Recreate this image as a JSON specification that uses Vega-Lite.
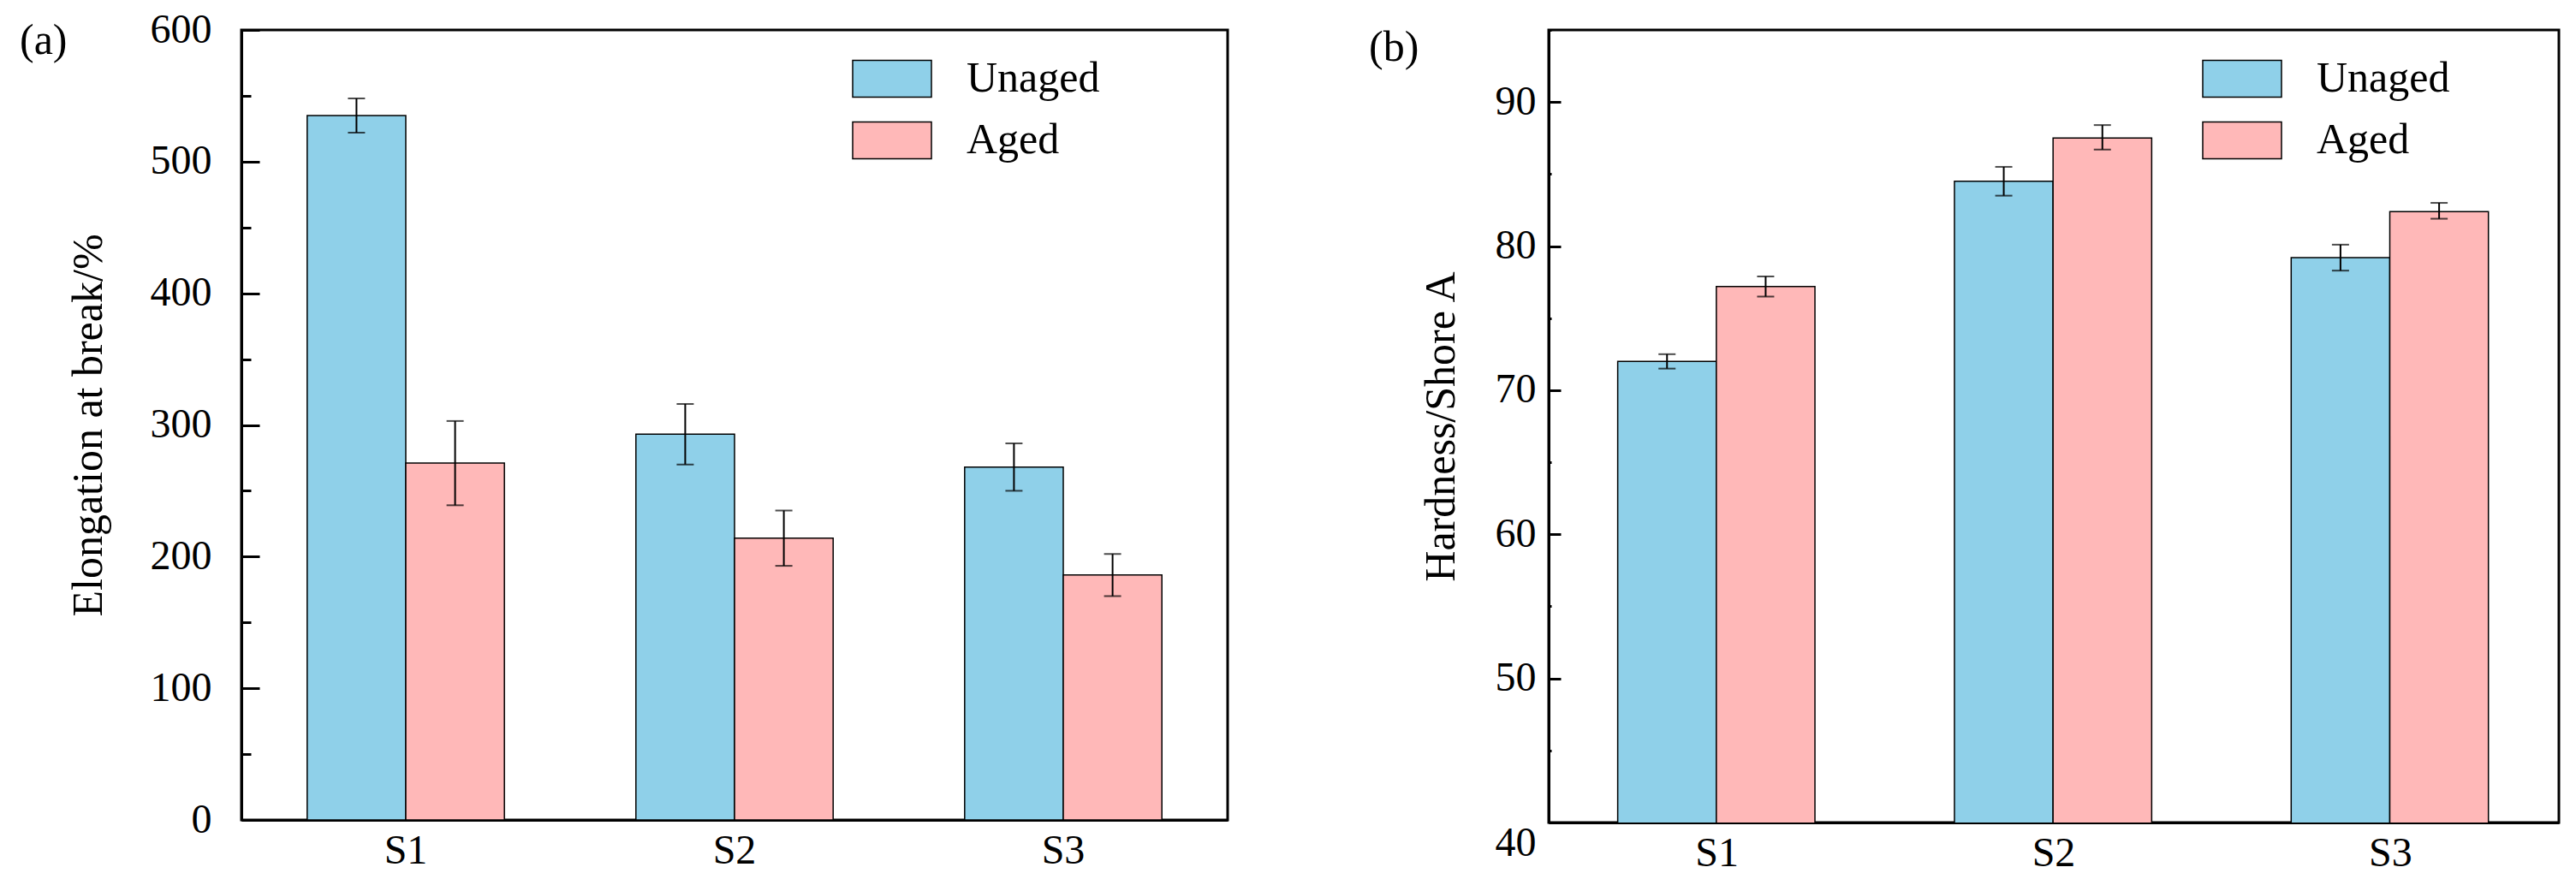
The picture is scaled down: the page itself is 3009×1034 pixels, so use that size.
{
  "$schema": "https://vega.github.io/schema/vega-lite/v6.json",
  "background": "white",
  "padding": {"left": 21, "top": 9, "right": 0, "bottom": 0},
  "datasets": {
    "elong": [
      {"sample": "S1", "cond": "Unaged", "value": 535, "lo": 522, "hi": 548},
      {"sample": "S1", "cond": "Aged", "value": 271, "lo": 239, "hi": 303},
      {"sample": "S2", "cond": "Unaged", "value": 293, "lo": 270, "hi": 316},
      {"sample": "S2", "cond": "Aged", "value": 214, "lo": 193, "hi": 235},
      {"sample": "S3", "cond": "Unaged", "value": 268, "lo": 250, "hi": 286},
      {"sample": "S3", "cond": "Aged", "value": 186, "lo": 170, "hi": 202}
    ],
    "hard": [
      {"sample": "S1", "cond": "Unaged", "value": 72.0, "lo": 71.5, "hi": 72.5},
      {"sample": "S1", "cond": "Aged", "value": 77.2, "lo": 76.5, "hi": 77.9},
      {"sample": "S2", "cond": "Unaged", "value": 84.5, "lo": 83.5, "hi": 85.5},
      {"sample": "S2", "cond": "Aged", "value": 87.5, "lo": 86.7, "hi": 88.4},
      {"sample": "S3", "cond": "Unaged", "value": 79.2, "lo": 78.3, "hi": 80.1},
      {"sample": "S3", "cond": "Aged", "value": 82.4, "lo": 81.9, "hi": 83.0}
    ]
  },
  "bounds": "flush",
  "spacing": 375,
  "hconcat": [
    {
      "width": 1152,
      "height": 923,
      "data": {"name": "elong"},
      "title": {"text": "(a)", "anchor": "start", "frame": "group", "orient": "top", "dx": -259, "dy": 87, "offset": 0, "baseline": "middle"},
      "encoding": {
        "x": {"field": "sample", "type": "nominal", "scale": {"paddingInner": 0.4, "paddingOuter": 0.2},
              "axis": {"title": null, "labelAngle": 0, "tickSize": -20, "labelPadding": 32}},
        "xOffset": {"field": "cond", "type": "nominal", "sort": ["Unaged", "Aged"], "scale": {"paddingInner": 0, "paddingOuter": 0}}
      },
      "layer": [
        {
          "mark": {"type": "bar", "stroke": "black", "strokeWidth": 1.5, "clip": true},
          "encoding": {
            "y": {"field": "value", "type": "quantitative", "scale": {"domain": [0, 600], "nice": false},
                  "axis": {"title": "Elongation at break/%", "values": [0, 50, 100, 150, 200, 250, 300, 350, 400, 450, 500, 550, 600],
                           "labelExpr": "datum.value % 100 === 0 ? datum.label : ''",
                           "tickSize": {"condition": {"test": "datum.value % 100 === 0", "value": -21}, "value": -11},
                           "labelPadding": 56, "titlePadding": 47}},
            "color": {"field": "cond", "type": "nominal", "sort": ["Unaged", "Aged"],
                      "scale": {"domain": ["Unaged", "Aged"], "range": ["#8fd0e9", "#ffb8b8"]},
                      "legend": {"legendX": 713, "legendY": 10}}
          }
        },
        {
          "mark": {"type": "rule", "color": "black", "strokeWidth": 2},
          "encoding": {"y": {"field": "lo", "type": "quantitative"}, "y2": {"field": "hi"}}
        },
        {
          "mark": {"type": "tick", "color": "black", "thickness": 2, "size": 20},
          "encoding": {"y": {"field": "lo", "type": "quantitative"}}
        },
        {
          "mark": {"type": "tick", "color": "black", "thickness": 2, "size": 20},
          "encoding": {"y": {"field": "hi", "type": "quantitative"}}
        }
      ]
    },
    {
      "width": 1180,
      "height": 926,
      "data": {"name": "hard"},
      "title": {"text": "(b)", "anchor": "start", "frame": "group", "orient": "top", "dx": -210, "dy": 72, "offset": 0, "baseline": "middle"},
      "encoding": {
        "x": {"field": "sample", "type": "nominal", "scale": {"paddingInner": 0.41, "paddingOuter": 0.205},
              "axis": {"title": null, "labelAngle": 0, "tickSize": -20, "labelPadding": 32}},
        "xOffset": {"field": "cond", "type": "nominal", "sort": ["Unaged", "Aged"], "scale": {"paddingInner": 0, "paddingOuter": 0}}
      },
      "layer": [
        {
          "mark": {"type": "bar", "stroke": "black", "strokeWidth": 1.5, "clip": true},
          "encoding": {
            "y": {"field": "value", "type": "quantitative", "scale": {"domain": [40, 95], "nice": false, "zero": false},
                  "axis": {"title": "Hardness/Shore A", "values": [40, 45, 50, 55, 60, 65, 70, 75, 80, 85, 90, 95],
                           "labelExpr": "datum.value % 10 === 0 ? datum.label : ''",
                           "tickSize": {"condition": {"test": "datum.value % 10 === 0", "value": -14}, "value": -3},
                           "labelBaseline": {"condition": {"test": "datum.value === 40", "value": "top"}, "value": "middle"},
                           "labelPadding": 29, "titlePadding": 38}},
            "color": {"field": "cond", "type": "nominal", "sort": ["Unaged", "Aged"],
                      "scale": {"domain": ["Unaged", "Aged"], "range": ["#8fd0e9", "#ffb8b8"]},
                      "legend": {"legendX": 763, "legendY": 10}}
          }
        },
        {
          "mark": {"type": "rule", "color": "black", "strokeWidth": 2},
          "encoding": {"y": {"field": "lo", "type": "quantitative"}, "y2": {"field": "hi"}}
        },
        {
          "mark": {"type": "tick", "color": "black", "thickness": 2, "size": 20},
          "encoding": {"y": {"field": "lo", "type": "quantitative"}}
        },
        {
          "mark": {"type": "tick", "color": "black", "thickness": 2, "size": 20},
          "encoding": {"y": {"field": "hi", "type": "quantitative"}}
        }
      ]
    }
  ],
  "resolve": {"scale": {"color": "independent"}, "legend": {"color": "independent"}},
  "config": {
    "font": "Liberation Serif",
    "view": {"stroke": "black", "strokeWidth": 3},
    "title": {"font": "Liberation Serif", "fontSize": 50, "fontWeight": "normal", "color": "black"},
    "axis": {
      "labelFont": "Liberation Serif", "titleFont": "Liberation Serif",
      "labelFontSize": 48, "titleFontSize": 50, "titleFontWeight": "normal",
      "labelColor": "black", "titleColor": "black",
      "domainColor": "black", "tickColor": "black",
      "domainWidth": 3, "tickWidth": 3, "grid": false
    },
    "legend": {
      "orient": "none", "title": null, "padding": 0,
      "symbolType": "M-1,-0.467H1V0.467H-1Z", "symbolSize": 8464,
      "symbolStrokeColor": "black", "symbolStrokeWidth": 1.5, "symbolOpacity": 1,
      "labelFont": "Liberation Serif", "labelFontSize": 50, "labelColor": "black",
      "labelOffset": 40, "labelLimit": 400, "rowPadding": -21
    }
  }
}
